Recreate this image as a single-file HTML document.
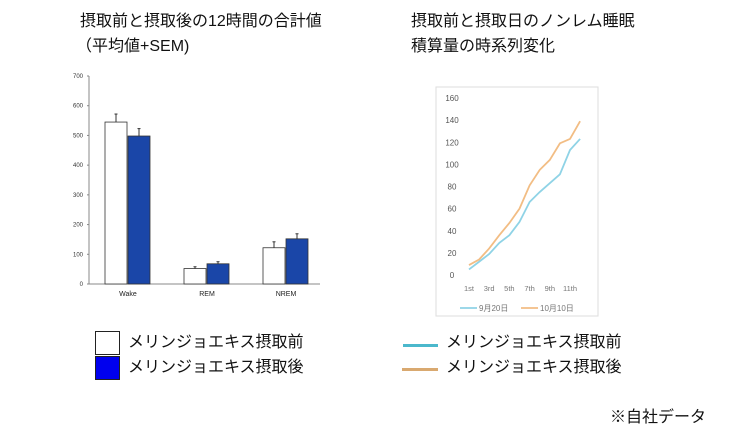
<!DOCTYPE html>
<html><head><meta charset="utf-8"><style>
body{margin:0;background:#fff;}
#root{position:relative;width:730px;height:435px;overflow:hidden;font-family:"Liberation Sans","Noto Sans CJK JP",sans-serif;}
.t{position:absolute;font-size:16px;color:#111;white-space:nowrap;line-height:20px;}
svg{position:absolute;left:0;top:0;}
</style></head><body>
<div id="root">
<div class="t" style="left:80px;top:12px">摂取前と摂取後の12時間の合計値</div>
<div class="t" style="left:76px;top:37px">（平均値+SEM)</div>
<div class="t" style="left:411px;top:12px">摂取前と摂取日のノンレム睡眠</div>
<div class="t" style="left:411px;top:37px">積算量の時系列変化</div>
<svg width="730" height="435" id="chart"></svg>
<div style="position:absolute;left:95px;top:331px;width:23px;height:22px;border:1px solid #222;background:#fff"></div>
<div style="position:absolute;left:95px;top:356px;width:23px;height:22px;border:1px solid #222;background:#0000ee"></div>
<div class="t" style="left:128px;top:333px">メリンジョエキス摂取前</div>
<div class="t" style="left:128px;top:358px">メリンジョエキス摂取後</div>
<div style="position:absolute;left:403px;top:344px;width:35px;height:3px;background:#4bb8cc"></div>
<div style="position:absolute;left:402px;top:368px;width:36px;height:3px;background:#d9a970"></div>
<div class="t" style="left:446px;top:333px">メリンジョエキス摂取前</div>
<div class="t" style="left:446px;top:358px">メリンジョエキス摂取後</div>
<div class="t" style="left:610px;top:408px">※自社データ</div>
</div>
<script>
const barCategories=["Wake","REM","NREM"];
const barBefore=[545,52,122];
const barAfter=[498,68,152];
const errBefore=[27,6,20];
const errAfter=[25,7,17];
const barTicks=[0,100,200,300,400,500,600,700];
const lineLabels=["1st","3rd","5th","7th","9th","11th"];
const lineBefore=[5,12,19,29,36,48,66,75,83,91,113,123];
const lineAfter=[9,14,24,36,47,60,81,95,104,119,123,139];
const lineTicks=[0,20,40,60,80,100,120,140,160];
const NS="http://www.w3.org/2000/svg";
const svg=document.getElementById('chart');
function mk(t,a,p){const e=document.createElementNS(NS,t);for(const k in a)e.setAttribute(k,a[k]);(p||svg).appendChild(e);return e;}
// bar chart
const by=v=>284-v*(208/700);
const bx0=89,catW=79;
let g=mk('g',{});


let ax=mk('line',{x1:bx0,y1:76,x2:bx0,y2:284,stroke:'#888','stroke-width':1},g);


let axx=mk('line',{x1:bx0,y1:284,x2:320,y2:284,stroke:'#888','stroke-width':1},g);


barTicks.forEach(v=>{
 const t=mk('text',{x:bx0-6,y:by(v)+2,'font-size':6,'text-anchor':'end',fill:'#333'},g);t.textContent=v;
 
 
 mk('line',{x1:bx0-2,y1:by(v),x2:bx0,y2:by(v),stroke:'#888'},g);
});
barCategories.forEach((c,i)=>{
 const cx=bx0+39+i*catW;
 [[barBefore[i],errBefore[i],'#fff',cx-23],[barAfter[i],errAfter[i],'#1a46a8',cx]].forEach(([v,e,f,x],j)=>{
  const r=mk('rect',{x:x,y:by(v),width:22,height:by(0)-by(v),fill:f,stroke:'#333','stroke-width':0.8},g);
  
  
  mk('line',{x1:x+11,y1:by(v),x2:x+11,y2:by(v+e),stroke:'#333'},g);
  mk('line',{x1:x+9.5,y1:by(v+e),x2:x+12.5,y2:by(v+e),stroke:'#333'},g);
 });
 const t=mk('text',{x:cx,y:296,'font-size':7,'text-anchor':'middle',fill:'#222'},g);t.textContent=c;
 
 
});
// line chart
const lg=mk('g',{});


const pr=mk('rect',{x:436,y:87,width:162,height:229,fill:'#fff',stroke:'#ddd'},lg);


const ly=v=>275-v*(177/160);
const lx=i=>469+i*10.1;
lineTicks.forEach(v=>{
 const t=mk('text',{x:452,y:ly(v)+3,'font-size':8,'text-anchor':'middle',fill:'#555'},lg);t.textContent=v;
 
 
});
lineLabels.forEach((l,i)=>{
 const t=mk('text',{x:lx(i*2),y:291,'font-size':7.5,'text-anchor':'middle',fill:'#777'},lg);t.textContent=l;
 
 
});
[[lineBefore,'#8fd3e6','line-series-before'],[lineAfter,'#f2bd84','line-series-after']].forEach(([d,c,n])=>{
 const p=mk('polyline',{points:d.map((v,i)=>lx(i)+','+ly(v)).join(' '),fill:'none',stroke:c,'stroke-width':1.8},lg);
 
 
});
mk('line',{x1:460,y1:308,x2:477,y2:308,stroke:'#8fd3e6','stroke-width':1.8},lg);
mk('line',{x1:521,y1:308,x2:538,y2:308,stroke:'#f2bd84','stroke-width':1.8},lg);
let t1=mk('text',{x:479,y:311,'font-size':8,fill:'#777'},lg);t1.textContent='9月20日';


let t2=mk('text',{x:540,y:311,'font-size':8,fill:'#777'},lg);t2.textContent='10月10日';


</script>
</body></html>
